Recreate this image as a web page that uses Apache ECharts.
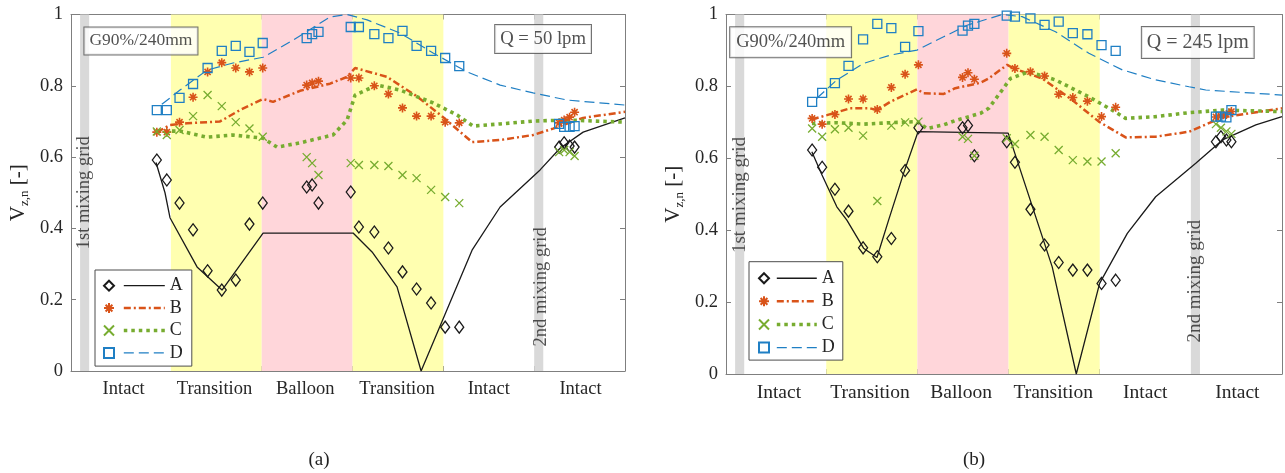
<!DOCTYPE html>
<html><head><meta charset="utf-8">
<script src="https://cdn.jsdelivr.net/npm/echarts@6/dist/echarts.min.js"></script>
<style>html,body{margin:0;padding:0;background:#fff}#c{width:1285px;height:473px}</style>
</head><body><div id="c"></div>
<script>
// ---------- data ----------
const regionEdges = [1.1, 2.1, 3.1, 4.1, 5.1];
const regionCenters = [0.58, 1.58, 2.58, 3.59, 4.6, 5.61];
const regionNames = ['Intact', 'Transition', 'Balloon', 'Transition', 'Intact', 'Intact'];
const seriesNames = ['A', 'B', 'C', 'D'];

// measurement positions (shared by all probes)
const probePos = [0.945, 1.055, 1.195, 1.344, 1.504, 1.66, 1.814, 1.965, 2.111,
  2.595, 2.655, 2.725, 3.08, 3.17, 3.34, 3.495, 3.65, 3.805, 3.965, 4.12, 4.275,
  5.375, 5.43, 5.49, 5.545];

// panel (a) : Q = 50 lpm, measured
const expA_a = [0.592, 0.536, 0.471, 0.396, 0.281, 0.227, 0.255, 0.412, 0.471, 0.516, 0.522, 0.471, 0.502, 0.404, 0.39, 0.345, 0.278, 0.23, 0.191, 0.123, 0.123, 0.628, 0.64, 0.631, 0.628];
const expB_a = [0.67, 0.67, 0.698, 0.768, 0.839, 0.865, 0.85, 0.839, 0.85, 0.802, 0.808, 0.813, 0.822, 0.822, 0.80, 0.777, 0.738, 0.715, 0.715, 0.698, 0.696, 0.696, 0.704, 0.712, 0.726];
const expC_a = [0.672, 0.662, 0.676, 0.715, 0.774, 0.743, 0.698, 0.68, 0.657, 0.60, 0.583, 0.55, 0.583, 0.578, 0.578, 0.575, 0.55, 0.541, 0.508, 0.488, 0.471, 0.614, 0.62, 0.614, 0.603];
const expD_a = [0.732, 0.732, 0.766, 0.805, 0.85, 0.898, 0.912, 0.895, 0.92, 0.934, 0.945, 0.951, 0.965, 0.965, 0.945, 0.934, 0.954, 0.912, 0.898, 0.878, 0.855, 0.693, 0.685, 0.685, 0.687];

// panel (a) : model curves [position, value]
const modelA_a = [[0.936,0.585],[1.035,0.50],[1.09,0.43],[1.388,0.292],[1.663,0.227],[2.115,0.387],[3.106,0.387],[3.315,0.334],[3.59,0.236],[3.855,0],[4.416,0.339],[4.725,0.46],[5.165,0.564],[5.385,0.625],[5.639,0.67],[6.1,0.71]];
const modelB_a = [[0.947,0.67],[1.09,0.69],[1.278,0.695],[1.641,0.70],[1.861,0.732],[2.115,0.763],[2.225,0.755],[2.522,0.786],[2.852,0.806],[3.04,0.825],[3.128,0.85],[3.48,0.825],[3.811,0.77],[4.097,0.712],[4.416,0.642],[4.725,0.648],[5.088,0.662],[5.308,0.68],[5.639,0.71],[6.1,0.727]];
const modelC_a = [[0.947,0.673],[1.2,0.673],[1.498,0.656],[1.784,0.662],[2.115,0.653],[2.269,0.628],[2.522,0.64],[2.885,0.662],[3.04,0.704],[3.128,0.774],[3.37,0.802],[3.623,0.788],[3.987,0.752],[4.251,0.718],[4.427,0.687],[4.725,0.693],[5.088,0.701],[5.463,0.704],[6.1,0.698]];
const modelD_a = [[1.0,0.748],[1.2,0.788],[1.498,0.844],[1.784,0.864],[2.115,0.88],[2.445,0.928],[2.709,0.97],[2.852,0.993],[3.04,1.0],[3.26,0.985],[3.623,0.948],[3.987,0.892],[4.361,0.839],[4.725,0.802],[5.088,0.78],[5.463,0.76],[6.1,0.746]];

// panel (b) : Q = 245 lpm, measured
const expA_b = [0.623, 0.575, 0.514, 0.453, 0.351, 0.326, 0.377, 0.566, 0.685, 0.685, 0.691, 0.607, 0.646, 0.589, 0.458, 0.359, 0.31, 0.289, 0.289, 0.252, 0.261, 0.646, 0.66, 0.651, 0.646];
const expB_b = [0.711, 0.695, 0.722, 0.765, 0.765, 0.736, 0.797, 0.834, 0.86, 0.825, 0.838, 0.82, 0.892, 0.85, 0.841, 0.829, 0.778, 0.769, 0.759, 0.716, 0.742, 0.715, 0.718, 0.722, 0.73];
const expC_b = [0.683, 0.66, 0.681, 0.685, 0.663, 0.481, 0.691, 0.70, 0.702, 0.66, 0.654, 0.607, 0.656, 0.64, 0.665, 0.66, 0.623, 0.595, 0.591, 0.591, 0.614, 0.695, 0.685, 0.675, 0.668];
const expD_b = [0.757, 0.782, 0.809, 0.857, 0.931, 0.974, 0.962, 0.91, 0.954, 0.955, 0.969, 0.974, 0.997, 0.994, 0.989, 0.971, 0.98, 0.948, 0.945, 0.915, 0.899, 0.716, 0.716, 0.714, 0.734];

// panel (b) : model curves
const modelA_b = [[0.942,0.618],[1.052,0.554],[1.216,0.465],[1.326,0.428],[1.509,0.35],[1.656,0.324],[1.784,0.428],[1.948,0.558],[2.107,0.674],[3.096,0.67],[3.579,0.298],[3.843,0],[4.099,0.252],[4.403,0.391],[4.714,0.493],[5.154,0.586],[5.447,0.651],[5.813,0.693],[6.1,0.716]];
const modelB_b = [[0.942,0.708],[1.107,0.72],[1.363,0.739],[1.582,0.739],[1.656,0.734],[1.802,0.757],[2.096,0.792],[2.168,0.781],[2.388,0.779],[2.516,0.795],[2.791,0.81],[2.882,0.822],[3.085,0.86],[3.157,0.85],[3.469,0.822],[3.799,0.762],[4.091,0.702],[4.385,0.658],[4.714,0.66],[5.08,0.674],[5.447,0.714],[6.1,0.739]];
const modelC_b = [[0.942,0.697],[1.216,0.699],[1.509,0.695],[1.802,0.699],[2.096,0.702],[2.205,0.683],[2.388,0.693],[2.516,0.705],[2.791,0.725],[2.882,0.739],[3.03,0.79],[3.121,0.822],[3.322,0.841],[3.615,0.818],[3.981,0.771],[4.238,0.734],[4.385,0.711],[4.714,0.716],[5.08,0.727],[5.447,0.734],[6.1,0.73]];
const modelD_b = [[0.997,0.767],[1.216,0.818],[1.509,0.864],[1.802,0.887],[2.096,0.901],[2.388,0.938],[2.645,0.97],[3.03,1.0],[3.249,0.994],[3.615,0.952],[3.981,0.892],[4.348,0.846],[4.714,0.818],[5.08,0.799],[5.264,0.79],[6.1,0.776]];

// ---------- styles ----------
const FONT = "'Liberation Serif', 'Times New Roman', serif";
const TXT = '#262626';
const AX = '#7f7f7f';
const COL = { A: '#1a1a1a', B: '#D95319', C: '#77AC30', D: '#1f7fc4' };
const SYM = {
  A: 'diamond',
  B: 'path://M5,0L5,10M0,5L10,5M1.6,1.6L8.4,8.4M8.4,1.6L1.6,8.4',
  C: 'path://M0,0L10,10M10,0L0,10',
  D: 'rect'
};
const SYMSIZE = { A: [9, 12], B: 9, C: 8, D: 9 };
const LINE = {
  A: { width: 1.3, type: 'solid' },
  B: { width: 2.5, type: [7, 3, 2, 3] },
  C: { width: 3.6, type: [3.5, 4] },
  D: { width: 1.2, type: [10, 5] }
};

const grids = [
  { left: 71, top: 14.5, width: 554, height: 356.5 },
  { left: 726, top: 14.5, width: 556, height: 359.5 }
];
const xLabelSize = [18.5, 19.5];

const xAxes = [], yAxes = [], series = [];
function nearestName(v) {
  let bi = 0, bd = 1e9;
  regionCenters.forEach((c, i) => { const d = Math.abs(c - v); if (d < bd) { bd = d; bi = i; } });
  return regionNames[bi];
}
[0, 1].forEach(gi => {
  const common = { type: 'value', gridIndex: gi, min: 0, max: 6.1, splitLine: { show: false },
    axisLine: { show: true, onZero: false, lineStyle: { color: AX, width: 1 } } };
  xAxes.push(Object.assign({}, common, {
    position: 'bottom',
    axisTick: { show: true, inside: true, length: 5, customValues: regionEdges, lineStyle: { color: AX } },
    axisLabel: { show: true, customValues: regionCenters, formatter: v => nearestName(v),
      fontFamily: FONT, fontSize: xLabelSize[gi], color: TXT, margin: 9 }
  }));
  xAxes.push(Object.assign({}, common, {
    position: 'top',
    axisTick: { show: true, inside: true, length: 5, customValues: regionEdges, lineStyle: { color: AX } },
    axisLabel: { show: false }
  }));
  const ycommon = { type: 'value', gridIndex: gi, min: 0, max: 1, interval: 0.2, splitLine: { show: false },
    axisLine: { show: true, onZero: false, lineStyle: { color: AX, width: 1 } },
    axisTick: { show: true, inside: true, length: 5, lineStyle: { color: AX } } };
  yAxes.push(Object.assign({}, ycommon, {
    position: 'left',
    axisLabel: { show: true, fontFamily: FONT, fontSize: 18.5, color: TXT, margin: 8 },
    name: '{v|V}{s|z,n}{v| [-]}',
    nameLocation: 'middle', nameRotate: 90, nameGap: 40,
    nameTextStyle: {
      fontFamily: FONT, color: TXT,
      rich: {
        v: { fontFamily: FONT, fontSize: 21, color: TXT, lineHeight: 26, verticalAlign: 'middle' },
        s: { fontFamily: FONT, fontSize: 13, color: TXT, lineHeight: 12, verticalAlign: 'bottom' }
      }
    }
  }));
  yAxes.push(Object.assign({}, ycommon, { position: 'right', axisLabel: { show: false } }));
});

const expSets = [
  { A: expA_a, B: expB_a, C: expC_a, D: expD_a },
  { A: expA_b, B: expB_b, C: expC_b, D: expD_b }
];
const modelSets = [
  { A: modelA_a, B: modelB_a, C: modelC_a, D: modelD_a },
  { A: modelA_b, B: modelB_b, C: modelC_b, D: modelD_b }
];

// background regions + annotations
const annot = [
  { grid1: [0.15, 0.5], grid2: [5.18, 0.236], gridFont: 18.5,
    box1: [0.77, 0.926], box1Font: 17.5, box1Pad: [5, 5, 4, 5],
    box2: [5.198, 0.931], box2Font: 18.7, box2Pad: [5, 5, 4, 5], q: 'Q = 50 lpm' },
  { grid1: [0.15, 0.498], grid2: [5.15, 0.258], gridFont: 19,
    box1: [0.709, 0.923], box1Font: 18.5, box1Pad: [6, 6, 5, 6],
    box2: [5.176, 0.922], box2Font: 20, box2Pad: [6, 5, 5, 5], q: 'Q = 245 lpm' }
];

[0, 1].forEach(gi => {
  const xi = gi * 2, yi = gi * 2;
  const an = annot[gi];
  // regions
  series.push({
    type: 'scatter', name: '_bg' + gi, xAxisIndex: xi, yAxisIndex: yi, z: 0, silent: true,
    data: [[0, 0]], symbolSize: 0, itemStyle: { color: 'transparent' },
    markArea: {
      silent: true,
      data: [
        [{ xAxis: 0.1, itemStyle: { color: '#d9d9d9', opacity: 1 } }, { xAxis: 0.2 }],
        [{ xAxis: 1.1, itemStyle: { color: '#ffffb0', opacity: 1 } }, { xAxis: 2.1 }],
        [{ xAxis: 2.1, itemStyle: { color: '#ffd6da', opacity: 1 } }, { xAxis: 3.1 }],
        [{ xAxis: 3.1, itemStyle: { color: '#ffffb0', opacity: 1 } }, { xAxis: 4.1 }],
        [{ xAxis: 5.1, itemStyle: { color: '#d9d9d9', opacity: 1 } }, { xAxis: 5.2 }]
      ]
    }
  });
  seriesNames.forEach(k => {
    series.push({
      type: 'line', name: k, xAxisIndex: xi, yAxisIndex: yi, z: 3,
      data: modelSets[gi][k], symbol: 'none', smooth: false, clip: true, silent: true,
      lineStyle: Object.assign({ color: COL[k], cap: 'butt' }, LINE[k]),
      itemStyle: { color: COL[k] }
    });
  });
  seriesNames.forEach(k => {
    series.push({
      type: 'scatter', name: k + ' ', xAxisIndex: xi, yAxisIndex: yi, z: 4, silent: true,
      data: probePos.map((p, i) => [p, expSets[gi][k][i]]),
      symbol: SYM[k], symbolSize: SYMSIZE[k],
      itemStyle: { color: 'transparent', borderColor: COL[k], borderWidth: k === 'B' ? 1.6 : 1.3, opacity: 1 }
    });
  });
  // annotations
  const gridLab = (pt, txt) => ({ value: pt, label: { show: true, position: 'inside', rotate: 90,
    formatter: txt, fontFamily: FONT, fontSize: an.gridFont, color: TXT } });
  const boxLab = (pt, txt, fs, pad) => ({ value: pt, label: { show: true, position: 'inside',
    formatter: txt, fontFamily: FONT, fontSize: fs, color: TXT, backgroundColor: '#fff',
    borderColor: '#4d4d4d', borderWidth: 1, padding: pad } });
  series.push({
    type: 'scatter', name: '_ann' + gi, xAxisIndex: xi, yAxisIndex: yi, z: 6, silent: true,
    symbolSize: 1, itemStyle: { color: 'transparent' },
    data: [
      gridLab(an.grid1, '1st mixing grid'),
      gridLab(an.grid2, '2nd mixing grid'),
      boxLab(an.box1, 'G90%/240mm', an.box1Font, an.box1Pad),
      boxLab(an.box2, an.q, an.box2Font, an.box2Pad)
    ]
  });
});

// legends (line part with frame, marker part on top)
const legLine = (left, top, pad, w, lh) => ({
  orient: 'vertical', left, top, padding: pad, itemGap: 0, itemWidth: w, itemHeight: 12,
  selectedMode: false, backgroundColor: '#fff', borderColor: '#4d4d4d', borderWidth: 1, borderRadius: 0,
  data: seriesNames.slice(), z: 8,
  itemStyle: { color: 'transparent', borderColor: 'transparent', borderWidth: 0, opacity: 0 },
  lineStyle: { width: 'inherit', type: 'inherit', color: 'inherit' },
  textStyle: { fontFamily: FONT, fontSize: 18, color: TXT, lineHeight: lh }
});
const legMark = (left, top, lh) => ({
  orient: 'vertical', left, top, padding: 0, itemGap: 0, itemWidth: 10, itemHeight: 10,
  selectedMode: false, data: seriesNames.map(k => k + ' '), z: 9, formatter: () => ' ',
  textStyle: { fontFamily: FONT, fontSize: 18, color: TXT, lineHeight: lh }
});

const option = {
  animation: false,
  backgroundColor: '#fff',
  grid: grids,
  xAxis: xAxes,
  yAxis: yAxes,
  series,
  legend: [
    legLine(95, 270, [4.5, 9, 2, 27], 41, 22.4),
    legMark(103, 274.5, 22.4),
    legLine(749, 261.7, [5, 8, 1, 26], 40, 23.1),
    legMark(758, 266.7, 23.1)
  ],
  graphic: [
    { type: 'text', x: 319, y: 460, style: { text: '(a)', font: "19px 'Liberation Serif'", fill: '#222', textAlign: 'center', textVerticalAlign: 'middle' } },
    { type: 'text', x: 974, y: 460, style: { text: '(b)', font: "19px 'Liberation Serif'", fill: '#222', textAlign: 'center', textVerticalAlign: 'middle' } }
  ]
};
const chart = echarts.init(document.getElementById('c'), null, { renderer: 'canvas' });
chart.setOption(option);
</script></body></html>
